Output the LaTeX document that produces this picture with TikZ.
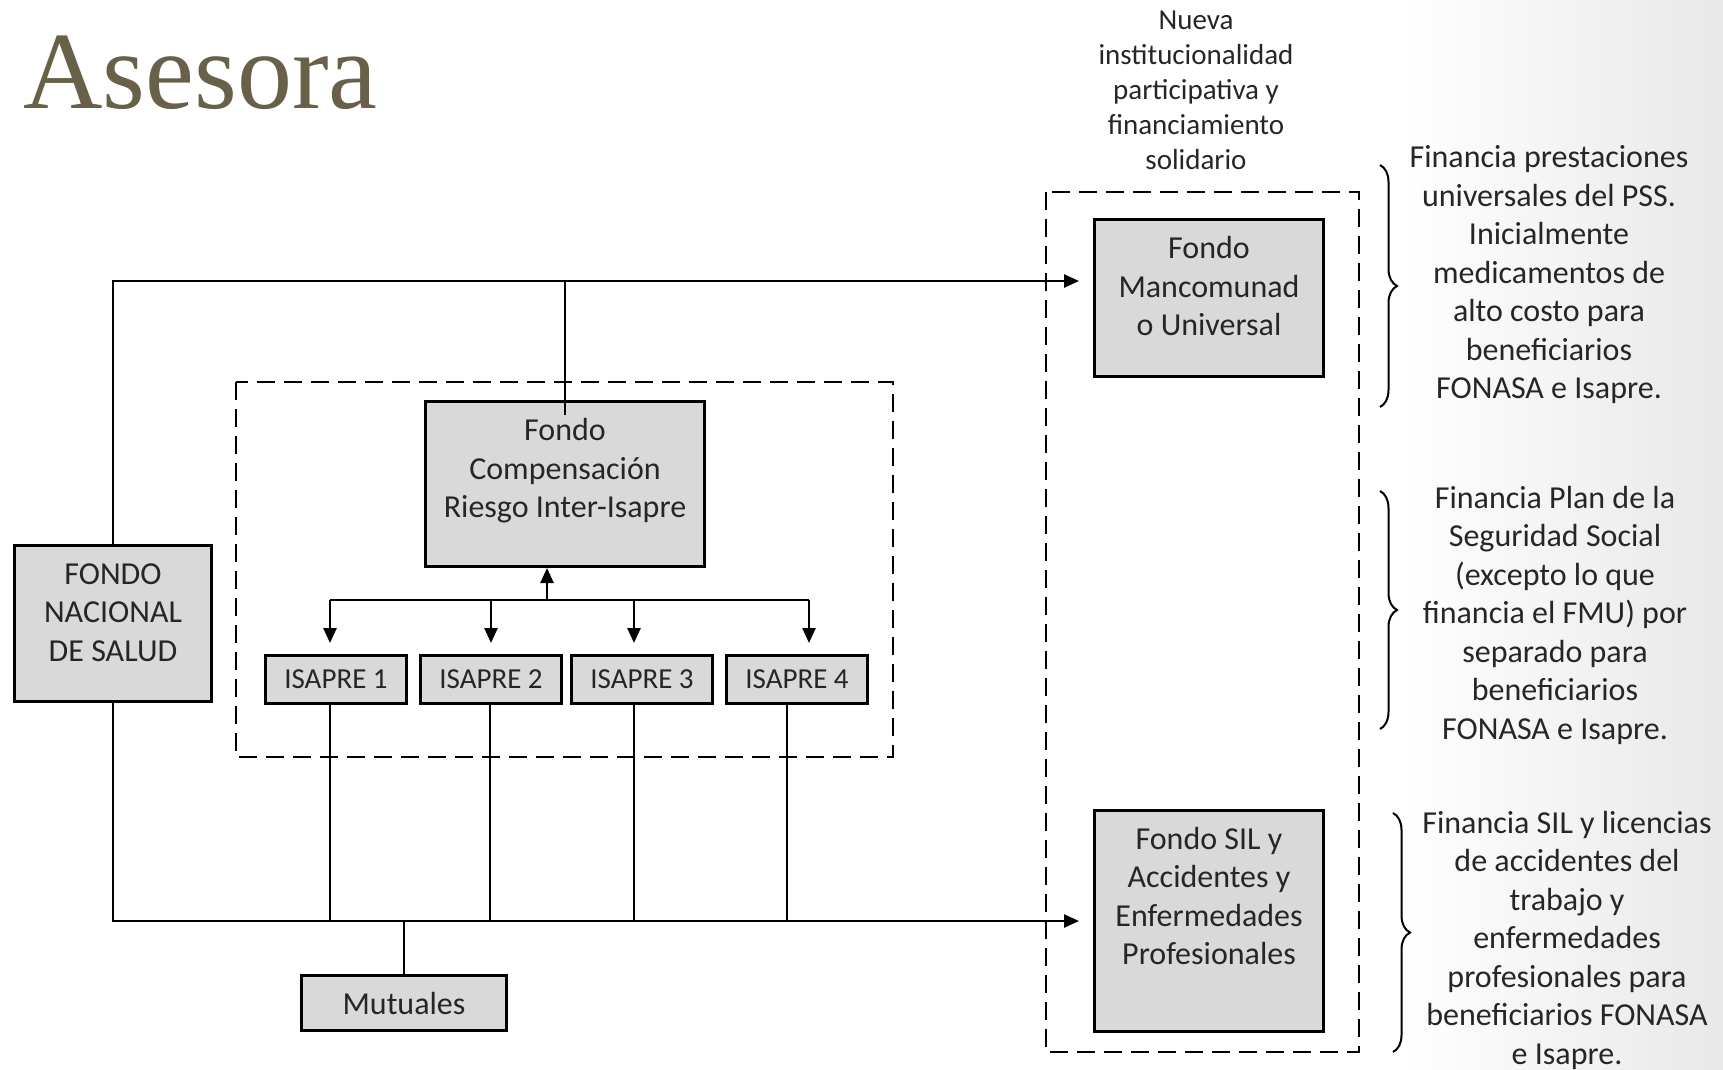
\documentclass[tikz,border=0pt]{standalone}
\usepackage{fontspec}
\setmainfont{Carlito}
\newfontfamily\titlefont{Liberation Serif}
\usetikzlibrary{arrows.meta, positioning, calc, decorations.pathreplacing}
\definecolor{cajagris}{RGB}{217,217,217}
\definecolor{textogris}{RGB}{38,38,38}
\definecolor{titulo}{RGB}{104,96,72}
\tikzset{
    %Define standard arrow tip
    >={Triangle[length=15pt,width=13pt]},
    %Define style for boxes
    caja/.style={
           rectangle,
           draw=black, line width=3pt,
           fill=cajagris,
           inner sep=0pt,
           text=textogris,
           align=center,
           font=\fontsize{32}{38.5}\selectfont},
    isapre/.style={
           caja,
           minimum width=141pt,
           minimum height=48pt,
           font=\fontsize{29}{35}\selectfont},
    % Define text style
    texto/.style={
           text=textogris,
           align=center,
           font=\fontsize{32}{38.5}\selectfont},
    marco/.style={draw=black, line width=2.5pt, dash pattern=on 18pt off 9pt},
    llave/.style={decorate, decoration={brace, amplitude=17pt}, line width=2pt},
    % Define arrow style
    pil/.style={
           ->,
           line width=2.5pt},
    linea/.style={line width=2.5pt}
}

\begin{document}
\begin{tikzpicture}[x=1pt, y=-1pt]
	\useasboundingbox (0,0) rectangle (1723,1069);
	\fill[left color=white, right color=black!9] (1400,0) rectangle (1723,1069);
	%
	% titulo
	%
	\node[anchor=base west, inner sep=0pt, text=titulo,
	      font=\titlefont\fontsize{110}{120}\selectfont] (asesora) at (23,108) {Asesora};
	%
	% marcos
	%
	\draw[marco] (236,382) rectangle (893,757);
	\draw[marco] (1046,192) rectangle (1359,1052);
	%
	% noeuds
	%
	\node[caja, minimum width=197pt, minimum height=156pt,
	      label={[texto, yshift=11pt]center:FONDO\\NACIONAL\\DE SALUD}] (fonasa) at (113,623.5) {};
	\node[caja, minimum width=279pt, minimum height=165pt,
	      label={[texto, yshift=13pt]center:Fondo\\Compensación\\Riesgo Inter-Isapre}] (fcr) at (565,484) {};
	\node[isapre] (i1) at (336,679.5) {ISAPRE 1};
	\node[isapre, right=11pt of i1] (i2) {ISAPRE 2};
	\node[isapre, right=7pt of i2] (i3) {ISAPRE 3};
	\node[isapre, right=11pt of i3] (i4) {ISAPRE 4};
	\node[caja, minimum width=205pt, minimum height=55pt] (mut) at (404,1003) {Mutuales};
	\node[caja, minimum width=229pt, minimum height=157pt,
	      label={[texto, yshift=12pt]center:Fondo\\Mancomunad\\o Universal}] (fm) at (1209,298) {};
	\node[caja, minimum width=229pt, minimum height=221pt,
	      label={[texto, yshift=25pt]center:Fondo SIL y\\Accidentes y\\Enfermedades\\Profesionales}] (fsil) at (1209,921) {};
	%
	% textos
	%
	\node[texto, font=\fontsize{29}{35}\selectfont] (nueva) at (1196,90)
	     {Nueva\\institucionalidad\\participativa y\\financiamiento\\solidario};
	\node[texto] (txtfm) at (1549,275) {Financia prestaciones\\universales del PSS.\\Inicialmente\\medicamentos de\\alto costo para\\beneficiarios\\FONASA e Isapre.};
	\node[texto] (txtplan) at (1555,615) {Financia Plan de la\\Seguridad Social\\(excepto lo que\\financia el FMU) por\\separado para\\beneficiarios\\FONASA e Isapre.};
	\node[texto] (txtsil) at (1567,940) {Financia SIL y licencias\\de accidentes del\\trabajo y\\enfermedades\\profesionales para\\beneficiarios FONASA\\e Isapre.};
	%
	% llaves
	%
	\draw[llave] (1380,165) -- (1380,407);
	\draw[llave] (1380,491) -- (1380,729);
	\draw[llave] (1393,813) -- (1393,1052);
	%
	% Liens
	%
	\coordinate (fmin) at ([yshift=17pt]fm.west);
	\draw[pil, shorten >=14pt] (fonasa.north) |- (fmin);
	\draw[linea] ([yshift=-15pt]fcr.north) -- (fcr.north |- fmin);
	\coordinate (reparto) at ([xshift=-18pt, yshift=-32pt]fcr.south);
	\draw[pil] (reparto) -- ([xshift=-18pt]fcr.south);
	\foreach \n/\dx in {1/-6, 2/0, 3/-8, 4/12} {
	  \coordinate (a\n) at ([xshift=\dx pt]i\n.north);
	  \draw[pil, shorten >=11pt] (a\n |- reparto) -- (a\n);
	}
	\draw[linea] (a1 |- reparto) -- (a4 |- reparto);
	\draw[pil, shorten >=14pt] (fonasa.south) |- (fsil.west);
	\foreach \n/\dx in {1/-6, 2/-1, 3/-8, 4/-10} {
	  \coordinate (b\n) at ([xshift=\dx pt]i\n.south);
	  \draw[linea] (b\n) -- (b\n |- fsil.west);
	}
	\draw[linea] (mut.north) -- (mut.north |- fsil.west);
\end{tikzpicture}
\end{document}
